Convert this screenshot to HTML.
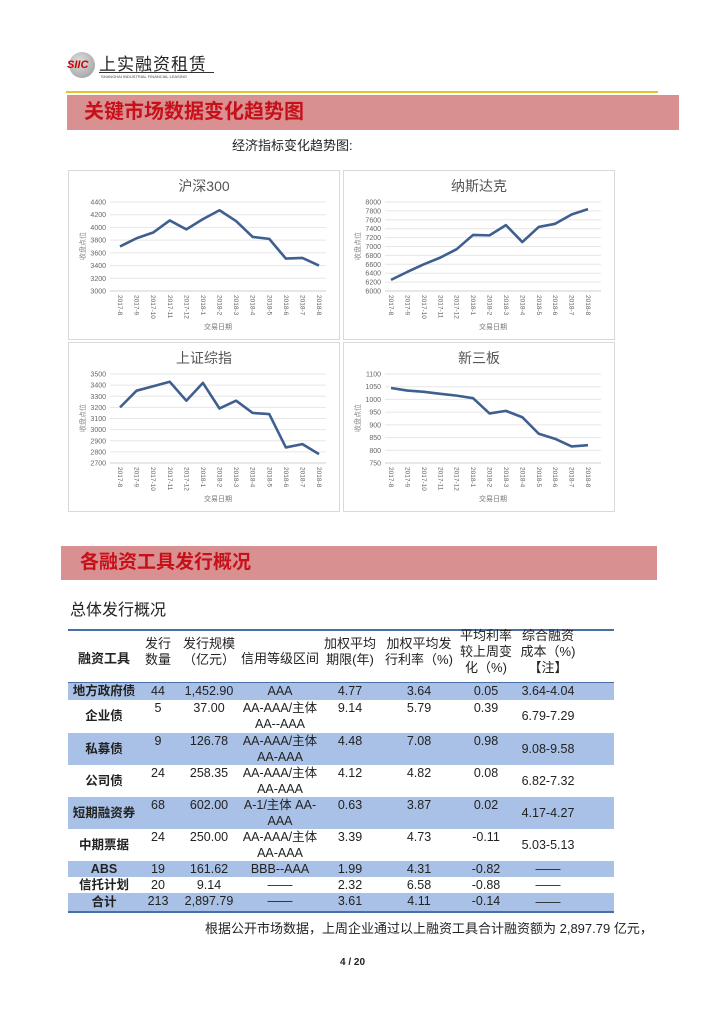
<!DOCTYPE html>
<html><head><meta charset="utf-8"><style>
*{margin:0;padding:0;box-sizing:border-box}
body{width:724px;height:1023px;background:#fff;position:relative;font-family:"Liberation Sans","Noto Sans CJK SC",sans-serif;overflow:hidden}
.a{position:absolute}
.c{position:absolute;text-align:center;font-size:12.5px;color:#222;line-height:16px}
.band{position:absolute;background:#a9c1e6}
</style></head><body>
<div class="a" style="left:69px;top:52px;width:26px;height:26px;border-radius:50%;background:radial-gradient(circle at 40% 35%,#ddd,#999)"></div>
<div class="a" style="left:67px;top:59px;font:italic bold 11px 'Liberation Sans';color:#c00">SIIC</div>
<div class="a" style="left:99px;top:50px;font-size:17px;color:#222;letter-spacing:1px">上实融资租赁</div>
<div class="a" style="left:99px;top:72px;width:115px;border-top:1px solid #333"></div>
<div class="a" style="left:101px;top:74px;font-size:4px;color:#444">SHANGHAI INDUSTRIAL FINANCIAL LEASING</div>
<div class="a" style="left:66px;top:91px;width:592px;height:2px;background:#e8c327"></div>
<div class="a" style="left:67px;top:95px;width:612px;height:35px;background:#d89090"></div>
<div class="a" style="left:84px;top:98px;font-size:20px;font-weight:bold;color:#c8101a;line-height:28px">关键市场数据变化趋势图</div>
<div class="a" style="left:232px;top:135px;font-size:13px;color:#222">经济指标变化趋势图:</div>
<svg class="a" style="left:0;top:0" width="724" height="1023" id="s"></svg>
<div class="a" style="left:61px;top:546px;width:596px;height:34px;background:#d89090"></div>
<div class="a" style="left:80px;top:549px;font-size:19px;font-weight:bold;color:#c8101a;line-height:28px">各融资工具发行概况</div>
<div class="a" style="left:70px;top:596px;font-size:16px;color:#222">总体发行概况</div>
<div class="a" style="left:68px;top:629px;width:546px;height:2px;background:#4a6fa5"></div>
<div class="a" style="left:68px;top:682px;width:546px;height:1px;background:#4a6fa5"></div>
<div class="band" style="left:68px;top:683px;width:546px;height:17px"></div>
<div class="band" style="left:68px;top:733px;width:546px;height:32px"></div>
<div class="band" style="left:68px;top:797px;width:546px;height:32px"></div>
<div class="band" style="left:68px;top:861px;width:546px;height:16px"></div>
<div class="band" style="left:68px;top:893px;width:546px;height:18px"></div>
<div class="a" style="left:68px;top:911px;width:546px;height:2px;background:#4a6fa5"></div>
<div id="t"></div>
<div class="a" style="left:205px;top:918px;font-size:13px;color:#222">根据公开市场数据，上周企业通过以上融资工具合计融资额为 2,897.79 亿元，</div>
<div class="a" style="left:340px;top:957px;font-size:10px;font-weight:bold;color:#222">4 / 20</div>
<script>
var s=document.getElementById('s'),h='';
var lab=['2017-8','2017-9','2017-10','2017-11','2017-12','2018-1','2018-2','2018-3','2018-4','2018-5','2018-6','2018-7','2018-8'];
function ch(x,y,title,ticks,data,fx,lx){
 h+='<rect x="'+(x+.5)+'" y="'+(y+.5)+'" width="271" height="169" fill="#fff" stroke="#d9d9d9"/>';
 h+='<text x="'+(x+136)+'" y="'+(y+21)+'" font-size="14" fill="#555" text-anchor="middle">'+title+'</text>';
 var t0=y+32,t1=y+121,n=ticks.length-1,lo=ticks[0],hi=ticks[n];
 for(var i=0;i<=n;i++){var yy=t1-(t1-t0)*i/n;
  h+='<line x1="'+(x+42)+'" x2="'+(x+258)+'" y1="'+yy+'" y2="'+yy+'" stroke="'+(i?'#e6e6e6':'#cfcfcf')+'"/>';
  h+='<text x="'+(x+38)+'" y="'+(yy+2.5)+'" font-size="7" fill="#666" text-anchor="end">'+ticks[i]+'</text>';}
 var p=[];for(var i=0;i<13;i++){var xx=x+fx+(lx-fx)*i/12;p.push(xx+','+(t1-(t1-t0)*(data[i]-lo)/(hi-lo)));
  h+='<text transform="translate('+(xx-2)+','+(y+125)+') rotate(90)" font-size="6.5" fill="#666">'+lab[i]+'</text>';}
 h+='<polyline points="'+p.join(' ')+'" fill="none" stroke="#3f5f8f" stroke-width="2.6" stroke-linejoin="round"/>';
 h+='<text x="'+(x+150)+'" y="'+(y+159)+'" font-size="7" fill="#777" text-anchor="middle">交易日期</text>';
 h+='<text transform="translate('+(x+17)+','+(y+76)+') rotate(-90)" font-size="7" fill="#888" text-anchor="middle">收盘点位</text>';
}
ch(68,170,'沪深300',[3000,3200,3400,3600,3800,4000,4200,4400],[3700,3830,3920,4110,3970,4130,4270,4100,3850,3820,3510,3520,3400],52,251);
ch(343,170,'纳斯达克',[6000,6200,6400,6600,6800,7000,7200,7400,7600,7800,8000],[6250,6430,6600,6750,6940,7260,7250,7480,7100,7440,7510,7720,7840],48,245);
ch(68,342,'上证综指',[2700,2800,2900,3000,3100,3200,3300,3400,3500],[3200,3350,3390,3430,3260,3420,3190,3260,3150,3140,2840,2870,2780],52,251);
ch(343,342,'新三板',[750,800,850,900,950,1000,1050,1100],[1045,1035,1030,1022,1015,1005,945,955,930,865,845,815,820],48,245);
s.innerHTML=h;
var cx=[104,158,209,280,350,419,486,548],cw=[80,34,70,90,64,84,64,64];
var hd=[['融资工具',651],['发行<br>数量',636],['发行规模<br>（亿元）',636],['信用等级区间',651],['加权平均<br>期限(年)',636],['加权平均发<br>行利率（%)',636],['平均利率<br>较上周变<br>化（%)',628],['综合融资<br>成本（%)<br>【注】',628]];
var o='';
hd.forEach(function(d,i){o+='<div class="c" style="left:'+(cx[i]-cw[i]/2)+'px;top:'+d[1]+'px;width:'+cw[i]+'px;font-size:13px;'+(i==0?'font-weight:bold':'')+'">'+d[0]+'</div>';});
var rows=[[683,'地方政府债','44','1,452.90','AAA','4.77','3.64','0.05','3.64-4.04',0],
[700,'企业债','5','37.00','AA-AAA/主体<br>AA--AAA','9.14','5.79','0.39','6.79-7.29',8],
[733,'私募债','9','126.78','AA-AAA/主体<br>AA-AAA','4.48','7.08','0.98','9.08-9.58',8],
[765,'公司债','24','258.35','AA-AAA/主体<br>AA-AAA','4.12','4.82','0.08','6.82-7.32',8],
[797,'短期融资券','68','602.00','A-1/主体 AA-<br>AAA','0.63','3.87','0.02','4.17-4.27',8],
[829,'中期票据','24','250.00','AA-AAA/主体<br>AA-AAA','3.39','4.73','-0.11','5.03-5.13',8],
[861,'ABS','19','161.62','BBB--AAA','1.99','4.31','-0.82','——',0],
[877,'信托计划','20','9.14','——','2.32','6.58','-0.88','——',0],
[893,'合计','213','2,897.79','——','3.61','4.11','-0.14','——',1]];
rows.forEach(function(r){for(var i=0;i<8;i++){var off=(i==0||i==7)?r[9]:0;
 o+='<div class="c" style="left:'+(cx[i]-cw[i]/2-5)+'px;top:'+(r[0]+off)+'px;width:'+(cw[i]+10)+'px;'+(i==0?'font-weight:bold;font-size:12.5px':'')+'">'+r[i+1]+'</div>';}});
document.getElementById('t').innerHTML=o;
</script>
</body></html>
